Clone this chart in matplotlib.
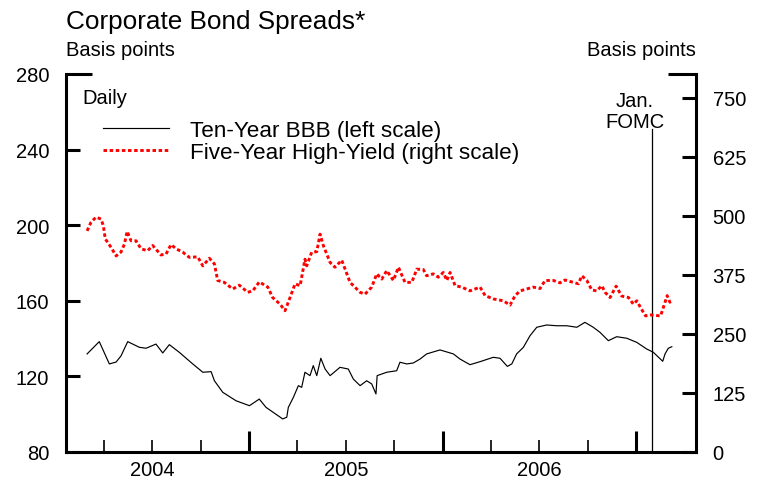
import matplotlib
matplotlib.use("Agg")
import matplotlib.pyplot as plt
from matplotlib.ticker import FixedLocator, FuncFormatter, NullFormatter

plt.rcParams['font.family'] = ['Liberation Sans', 'DejaVu Sans']

# ---------------- data (decimal years, basis points) ----------------
bbb_t = [2004.163, 2004.226, 2004.278, 2004.313, 2004.338, 2004.373, 2004.433, 2004.468,
         2004.519, 2004.554, 2004.588, 2004.640, 2004.709, 2004.761, 2004.804, 2004.821,
         2004.864, 2004.933, 2005.002, 2005.053, 2005.088, 2005.174, 2005.195, 2005.203,
         2005.229, 2005.255, 2005.272, 2005.289, 2005.315, 2005.332, 2005.350, 2005.371,
         2005.393, 2005.419, 2005.470, 2005.513, 2005.539, 2005.574, 2005.608, 2005.634,
         2005.656, 2005.662, 2005.712, 2005.763, 2005.780, 2005.815, 2005.849, 2005.884,
         2005.918, 2005.987, 2006.056, 2006.090, 2006.142, 2006.194, 2006.262, 2006.297,
         2006.335, 2006.358, 2006.383, 2006.418, 2006.452, 2006.487, 2006.538, 2006.590,
         2006.642, 2006.694, 2006.736, 2006.779, 2006.814, 2006.857, 2006.900, 2006.952,
         2007.004, 2007.055, 2007.089, 2007.138, 2007.150, 2007.167, 2007.185]
bbb_v = [131.9, 138.4, 126.6, 127.6, 130.8, 138.4, 135.4, 134.9,
         137.1, 132.4, 136.8, 132.7, 126.6, 122.2, 122.5, 117.7,
         111.6, 107.1, 104.5, 108.0, 103.6, 97.5, 98.4, 103.6,
         108.9, 115.1, 114.2, 122.2, 120.4, 125.7, 120.4, 129.6,
         123.9, 120.4, 124.8, 123.9, 118.6, 115.1, 117.7, 116.0,
         110.7, 120.4, 122.2, 123.0, 127.5, 126.6, 127.1, 129.2,
         131.9, 134.0, 131.9, 129.2, 126.2, 127.8, 130.1, 129.6,
         125.3, 126.6, 131.9, 135.4, 141.5, 146.0, 147.2, 146.8,
         146.8, 146.0, 148.6, 146.0, 143.3, 138.9, 141.0, 140.2,
         138.0, 134.5, 132.8, 128.0, 131.9, 134.9, 135.7]

hy_t = [2004.163, 2004.183, 2004.209, 2004.235, 2004.247, 2004.257, 2004.287, 2004.313,
        2004.338, 2004.356, 2004.370, 2004.390, 2004.416, 2004.442, 2004.476, 2004.502,
        2004.545, 2004.571, 2004.597, 2004.623, 2004.657, 2004.691, 2004.735, 2004.761,
        2004.795, 2004.821, 2004.838, 2004.872, 2004.916, 2004.950, 2004.993, 2005.019,
        2005.053, 2005.097, 2005.122, 2005.160, 2005.186, 2005.212, 2005.238, 2005.264,
        2005.289, 2005.298, 2005.324, 2005.350, 2005.367, 2005.384, 2005.419, 2005.444,
        2005.479, 2005.522, 2005.574, 2005.599, 2005.634, 2005.660, 2005.686, 2005.712,
        2005.746, 2005.772, 2005.806, 2005.841, 2005.867, 2005.901, 2005.918, 2005.952,
        2005.978, 2006.004, 2006.022, 2006.039, 2006.065, 2006.099, 2006.142, 2006.194,
        2006.220, 2006.262, 2006.314, 2006.349, 2006.375, 2006.401, 2006.435, 2006.469,
        2006.504, 2006.530, 2006.573, 2006.607, 2006.633, 2006.676, 2006.702, 2006.720,
        2006.746, 2006.771, 2006.797, 2006.823, 2006.840, 2006.866, 2006.897, 2006.926,
        2006.961, 2006.986, 2007.004, 2007.023, 2007.049, 2007.075, 2007.127, 2007.150,
        2007.161, 2007.175, 2007.184]
hy_v = [468, 486, 497, 493, 479, 451, 433, 415,
        423, 440, 467, 447, 447, 430, 426, 437,
        417, 419, 439, 430, 423, 412, 413, 394,
        410, 398, 363, 359, 345, 353, 338, 341,
        360, 349, 327, 313, 299, 327, 356, 352,
        408, 394, 423, 424, 461, 437, 401, 391,
        406, 359, 338, 334, 349, 377, 366, 384,
        363, 391, 359, 359, 387, 386, 373, 377,
        370, 380, 363, 380, 352, 349, 341, 349,
        331, 324, 320, 311, 331, 341, 345, 349,
        346, 363, 363, 358, 364, 359, 356, 373,
        363, 343, 341, 352, 338, 327, 351, 330,
        327, 313, 320, 306, 288, 290, 288, 317,
        331, 317, 320]

fomc_date = 2007.082
year_labels = ['2004', '2005', '2006']
year_starts = [2004, 2005, 2006]
left_ticks = [80, 120, 160, 200, 240]
right_ticks = [0, 125, 250, 375, 500, 625, 750]

# ---------------- figure ----------------
W, H = 762, 485
fig = plt.figure(figsize=(W / 100, H / 100), dpi=100)
ax = fig.add_axes([66 / W, 1 - 453 / H, (696 - 66) / W, (453 - 75) / H])
ax2 = ax.twinx()

l1, = ax.plot(bbb_t, bbb_v, color='black', lw=0.85, label='Ten-Year BBB (left scale)')
l2, = ax2.plot(hy_t, hy_v, color='#ff0000', lw=2.1, linestyle=(0, (1.2, 0.9)),
               label='Five-Year High-Yield (right scale)')
ax.axvline(fomc_date, ymin=0, ymax=(453 - 130) / 378, color='black', lw=0.9)

ax.set_xlim(2004.054, 2007.310)
ax.set_ylim(80, 280)
ax2.set_ylim(0, 800)

for a in (ax, ax2):
    a.spines['top'].set_visible(False)
    for s in a.spines.values():
        s.set_linewidth(2.2)
ax2.spines['left'].set_visible(False)
ax2.spines['bottom'].set_visible(False)
ax.spines['right'].set_visible(False)

FS = 14.5

# x axis: major ticks at year boundaries, minor at quarters, labels mid-year
ax.xaxis.set_major_locator(FixedLocator([y + 1 for y in year_starts]))
ax.xaxis.set_major_formatter(NullFormatter())
quarters = [y + q for y in year_starts for q in (0.25, 0.5, 0.75)]
ax.xaxis.set_minor_locator(FixedLocator(quarters))
mid = {y + 0.5: lab for y, lab in zip(year_starts, year_labels)}
ax.xaxis.set_minor_formatter(FuncFormatter(
    lambda v, p: next((lab for k, lab in mid.items() if abs(k - v) < 1e-6), '')))
ax.tick_params(axis='x', which='major', direction='in', length=15, width=2.2, labelsize=FS)
ax.tick_params(axis='x', which='minor', direction='in', length=9, width=1.2,
               labelsize=FS, pad=5.5)

# left y axis
ax.yaxis.set_major_locator(FixedLocator(left_ticks))
ax.yaxis.set_minor_locator(FixedLocator([280]))
ax.yaxis.set_minor_formatter(FuncFormatter(lambda v, p: f'{v:.0f}'))
ax.tick_params(axis='y', which='both', direction='in', width=2.2, labelsize=FS, pad=12)
ax.tick_params(axis='y', which='major', length=10)
ax.tick_params(axis='y', which='minor', length=19)

# right y axis
ax2.yaxis.set_major_locator(FixedLocator(right_ticks))
ax2.yaxis.set_minor_locator(FixedLocator([800]))
ax2.yaxis.set_minor_formatter(NullFormatter())
ax2.tick_params(axis='y', which='both', direction='in', width=2.2, labelsize=FS, pad=12)
ax2.tick_params(axis='y', which='major', length=10)
ax2.tick_params(axis='y', which='minor', length=20)

# texts
fig.text(66 / W, 1 - 29.5 / H, 'Corporate Bond Spreads*', fontsize=18.8, va='baseline', ha='left')
fig.text(66 / W, 1 - 56.5 / H, 'Basis points', fontsize=FS, va='baseline', ha='left')
fig.text(696 / W, 1 - 56.5 / H, 'Basis points', fontsize=FS, va='baseline', ha='right')
fig.text(82 / W, 1 - 104.5 / H, 'Daily', fontsize=FS, va='baseline', ha='left')
fig.text(635 / W, 1 - 106.8 / H, 'Jan.', fontsize=FS, va='baseline', ha='center')
fig.text(635 / W, 1 - 127.6 / H, 'FOMC', fontsize=FS, va='baseline', ha='center')

leg = ax2.legend(handles=[l1, l2], loc='upper left', bbox_to_anchor=(103 / W, 1 - 121 / H),
                 bbox_transform=fig.transFigure, frameon=False, fontsize=16.2,
                 borderpad=0, borderaxespad=0, handlelength=2.95, handletextpad=0.9,
                 labelspacing=0.05)

fig.savefig('out.png', dpi=100)
